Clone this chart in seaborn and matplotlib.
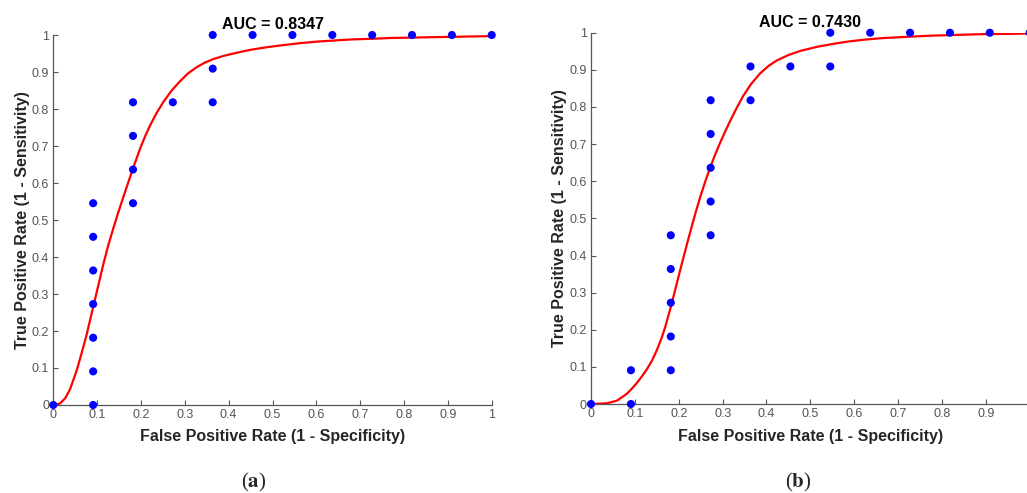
import numpy as np
import pandas as pd
import seaborn as sns
import matplotlib.pyplot as plt

# ROC points, panel (a)
fpr_a = [0, 0.0909, 0.0909, 0.0909, 0.0909, 0.0909, 0.0909, 0.0909,
         0.1818, 0.1818, 0.1818, 0.1818, 0.2727, 0.3636, 0.3636, 0.3636,
         0.4545, 0.5454, 0.6364, 0.7273, 0.8182, 0.9091, 1.0]
tpr_a = [0, 0, 0.0909, 0.1818, 0.2727, 0.3636, 0.4545, 0.5454,
         0.5454, 0.6364, 0.7273, 0.8182, 0.8182, 0.8182, 0.9091, 1.0,
         1.0, 1.0, 1.0, 1.0, 1.0, 1.0, 1.0]

# fitted curve, panel (a)
fit_x_a = [0, 0.015, 0.027, 0.038, 0.053, 0.061, 0.068, 0.076, 0.082, 0.091,
           0.097, 0.103, 0.109, 0.114, 0.125, 0.137, 0.148, 0.160, 0.179,
           0.198, 0.210, 0.221, 0.235, 0.251, 0.270, 0.289, 0.307, 0.327,
           0.345, 0.365, 0.390, 0.418, 0.450, 0.487, 0.520, 0.563, 0.600,
           0.639, 0.680, 0.730, 0.770, 0.821, 0.860, 0.912, 0.950, 1.0]
fit_y_a = [0, 0.004, 0.018, 0.042, 0.092, 0.125, 0.155, 0.190, 0.220, 0.265,
           0.295, 0.325, 0.355, 0.380, 0.430, 0.478, 0.520, 0.563, 0.630,
           0.693, 0.728, 0.756, 0.788, 0.819, 0.850, 0.875, 0.896, 0.913,
           0.925, 0.935, 0.944, 0.952, 0.960, 0.967, 0.972, 0.978, 0.982,
           0.985, 0.988, 0.990, 0.992, 0.993, 0.994, 0.995, 0.996, 0.997]

# ROC points, panel (b)
fpr_b = [0, 0.0909, 0.0909, 0.1818, 0.1818, 0.1818, 0.1818, 0.1818,
         0.2727, 0.2727, 0.2727, 0.2727, 0.2727, 0.3636, 0.3636, 0.4545,
         0.5454, 0.5454, 0.6364, 0.7273, 0.8182, 0.9091, 1.0]
tpr_b = [0, 0, 0.0909, 0.0909, 0.1818, 0.2727, 0.3636, 0.4545,
         0.4545, 0.5454, 0.6364, 0.7273, 0.8182, 0.8182, 0.9091, 0.9091,
         0.9091, 1.0, 1.0, 1.0, 1.0, 1.0, 1.0]

# fitted curve, panel (b)
fit_x_b = [0, 0.036, 0.059, 0.081, 0.092, 0.104, 0.115, 0.127, 0.139, 0.150,
           0.160, 0.169, 0.182, 0.195, 0.207, 0.219, 0.230, 0.240, 0.249,
           0.260, 0.271, 0.283, 0.294, 0.305, 0.317, 0.331, 0.347, 0.365,
           0.385, 0.404, 0.423, 0.450, 0.477, 0.515, 0.552, 0.590, 0.629,
           0.670, 0.705, 0.773, 0.830, 0.887, 0.950, 1.0]
fit_y_b = [0, 0.002, 0.009, 0.027, 0.040, 0.056, 0.073, 0.093, 0.117, 0.145,
           0.175, 0.207, 0.262, 0.322, 0.378, 0.432, 0.480, 0.522, 0.558,
           0.598, 0.635, 0.672, 0.703, 0.732, 0.762, 0.795, 0.830, 0.862,
           0.890, 0.910, 0.925, 0.940, 0.951, 0.962, 0.970, 0.977, 0.982,
           0.986, 0.988, 0.992, 0.994, 0.996, 0.997, 0.998]

titles = ['AUC = 0.8347', 'AUC = 0.7430']
ticks = [0, 0.1, 0.2, 0.3, 0.4, 0.5, 0.6, 0.7, 0.8, 0.9, 1]
tick_labels = ['0', '0.1', '0.2', '0.3', '0.4', '0.5', '0.6', '0.7', '0.8', '0.9', '1']

sns.set_style('ticks')
plt.rcParams['font.family'] = ['Liberation Sans', 'DejaVu Sans']
plt.rcParams['mathtext.fontset'] = 'stix'

fig = plt.figure(figsize=(10.27, 4.93), dpi=100)
ax_a = fig.add_axes([0.0519, 0.1785, 0.4269, 0.7505])
ax_b = fig.add_axes([0.5755, 0.1805, 0.4271, 0.7531])

panels = [
    (ax_a, fpr_a, tpr_a, fit_x_a, fit_y_a),
    (ax_b, fpr_b, tpr_b, fit_x_b, fit_y_b),
]

for i, (ax, fx, fy, cx, cy) in enumerate(panels):
    pts = pd.DataFrame({'fpr': fx, 'tpr': fy})
    fit = pd.DataFrame({'x': cx, 'y': cy})
    sns.lineplot(data=fit, x='x', y='y', ax=ax, color='#ff0000', linewidth=1.6,
                 sort=False, zorder=2)
    sns.scatterplot(data=pts, x='fpr', y='tpr', ax=ax, color='#0000ff', s=34,
                    edgecolor='none', clip_on=False, zorder=3)
    ax.set_xlim(0, 1)
    ax.set_ylim(0, 1)
    ax.set_xticks(ticks)
    # the last x label of panel (b) falls outside the picture in the original
    xl = tick_labels if i == 0 else tick_labels[:-1] + ['']
    ax.set_xticklabels(xl)
    ax.set_yticks(ticks)
    ax.set_yticklabels(tick_labels)
    ax.tick_params(direction='in', length=3.5, width=0.8, labelsize=9,
                   labelcolor='#555555', color='#555555', pad=3)
    sns.despine(ax=ax)
    for sp in ['left', 'bottom']:
        ax.spines[sp].set_color('#555555')
        ax.spines[sp].set_linewidth(0.9)
    ax.set_xlabel('False Positive Rate (1 - Specificity)', fontsize=11.5,
                  fontweight='bold', color='#262626', labelpad=6)
    ax.set_ylabel('True Positive Rate (1 - Sensitivity)', fontsize=11.5,
                  fontweight='bold', color='#262626', labelpad=1.5)
    ax.set_title(titles[i], fontsize=11.5, fontweight='bold', color='black', pad=4)

fig.text(0.2473, 0.0223, r'($\mathbf{a}$)', fontsize=15, family='Liberation Serif',
         ha='center', va='center')
fig.text(0.777, 0.0223, r'($\mathbf{b}$)', fontsize=15, family='Liberation Serif',
         ha='center', va='center')

fig.savefig('out.png', dpi=100, facecolor='white')
